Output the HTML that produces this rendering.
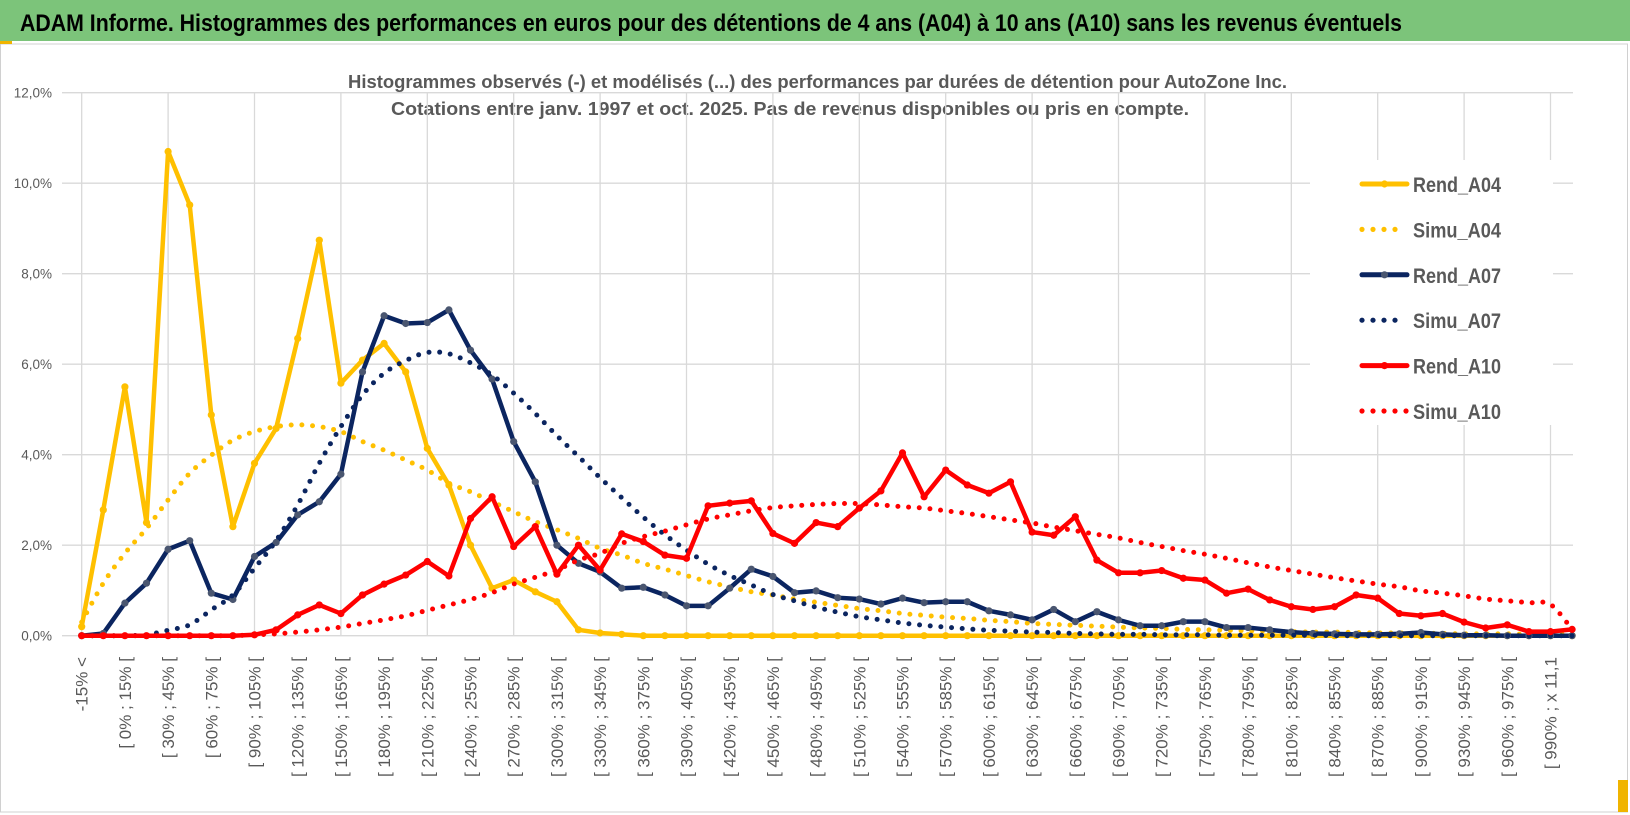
<!DOCTYPE html>
<html><head><meta charset="utf-8"><style>
html,body{margin:0;padding:0;background:#fff;}
svg{display:block;font-family:"Liberation Sans",sans-serif;}
</style></head><body>
<svg id="chart" width="1630" height="815" viewBox="0 0 1630 815">
<rect x="0" y="0" width="1630" height="815" fill="#fff"/>
<rect x="0.5" y="44" width="1627" height="768" fill="#fff" stroke="#d0d0d0"/>
<rect x="0" y="0" width="1630" height="41" fill="#7cc47a"/>
<rect x="0" y="41" width="12" height="3" fill="#f0b400"/>
<rect x="1618" y="780" width="10" height="32" fill="#f0b400"/>
<text x="20" y="31" font-size="24" font-weight="bold" fill="#000" textLength="1382" lengthAdjust="spacingAndGlyphs">ADAM Informe. Histogrammes des performances en euros pour des détentions de 4 ans (A04) à 10 ans (A10) sans les revenus éventuels</text>
<text x="348" y="88" font-size="18" font-weight="bold" fill="#595959" textLength="939" lengthAdjust="spacingAndGlyphs">Histogrammes observés (-) et modélisés (...) des performances par durées de détention pour AutoZone Inc.</text>
<text x="391" y="115" font-size="18" font-weight="bold" fill="#595959" textLength="798" lengthAdjust="spacingAndGlyphs">Cotations entre janv. 1997 et oct. 2025. Pas de revenus disponibles ou pris en compte.</text>
<g id="grid"></g>
<g id="yaxis"></g>
<g id="xaxis"></g>
<g id="series"></g>
<g id="legend"></g>
</svg>
<script>
const binStarts = [];
for (let b = 0; b <= 990; b += 15) binStarts.push(b);
const categories = ["-15% <", "[ -15% ; 0% ["].concat(binStarts.map(b => b === 990 ? "[ 990% ; x 11,1" : "[ " + b + "% ; " + (b + 15) + "% [")).concat(["> x 11,1"]);
const yTicks = [0, 2, 4, 6, 8, 10, 12];
const yTickLabels = ["0,0%", "2,0%", "4,0%", "6,0%", "8,0%", "10,0%", "12,0%"];
const rendA04 = [0.2,2.78,5.5,2.5,10.7,9.52,4.88,2.41,3.81,4.58,6.57,8.74,5.58,6.09,6.46,5.83,4.14,3.33,2.0,1.05,1.23,0.97,0.75,0.13,0.06,0.03,0,0,0,0,0,0,0,0,0,0,0,0,0,0,0,0,0,0,0,0,0,0,0,0,0,0,0,0,0,0,0,0,0,0,0,0,0,0,0,0,0,0,0,0];
const simuA04 = [0.3,1.16,1.82,2.37,3.0,3.59,3.99,4.32,4.51,4.62,4.66,4.62,4.51,4.29,4.10,3.88,3.66,3.37,3.18,2.96,2.74,2.52,2.34,2.15,1.93,1.78,1.60,1.47,1.33,1.19,1.08,0.97,0.90,0.81,0.74,0.67,0.60,0.55,0.49,0.45,0.41,0.38,0.34,0.31,0.27,0.25,0.23,0.21,0.19,0.17,0.16,0.14,0.13,0.12,0.11,0.10,0.09,0.08,0.08,0.07,0.06,0.06,0.05,0.05,0.04,0.04,0.04,0.03,0.03,0.03];
const rendA07 = [0,0.05,0.72,1.16,1.91,2.10,0.94,0.80,1.75,2.06,2.67,2.96,3.57,5.83,7.07,6.90,6.92,7.20,6.31,5.67,4.29,3.40,2.0,1.60,1.41,1.05,1.07,0.90,0.66,0.66,1.05,1.47,1.31,0.95,0.99,0.84,0.81,0.70,0.83,0.73,0.75,0.75,0.55,0.46,0.35,0.58,0.31,0.53,0.35,0.22,0.22,0.31,0.31,0.18,0.18,0.13,0.08,0.05,0.04,0.03,0.03,0.04,0.07,0.03,0.01,0.01,0,0,0,0];
const simuA07 = [0,0,0,0.02,0.12,0.24,0.57,0.90,1.49,2.10,2.89,3.81,4.62,5.32,5.80,6.08,6.26,6.23,6.03,5.76,5.36,4.91,4.42,3.96,3.49,3.05,2.62,2.23,1.89,1.58,1.33,1.12,0.91,0.77,0.63,0.52,0.42,0.35,0.28,0.23,0.19,0.15,0.12,0.10,0.08,0.07,0.05,0.04,0.03,0.03,0.02,0.02,0.02,0.01,0.01,0.01,0.01,0.01,0,0,0,0,0,0,0,0,0,0,0,0];
const rendA10 = [0,0,0,0,0,0,0,0,0.02,0.13,0.46,0.68,0.49,0.90,1.14,1.34,1.64,1.32,2.59,3.07,1.97,2.41,1.36,2.0,1.45,2.25,2.08,1.78,1.71,2.87,2.93,2.98,2.26,2.04,2.50,2.41,2.82,3.20,4.04,3.07,3.66,3.33,3.15,3.40,2.29,2.22,2.63,1.67,1.39,1.39,1.44,1.27,1.23,0.94,1.03,0.79,0.64,0.58,0.64,0.90,0.83,0.49,0.44,0.49,0.30,0.17,0.24,0.09,0.09,0.14];
const simuA10 = [0,0,0,0,0,0,0,0,0.02,0.04,0.08,0.13,0.19,0.27,0.35,0.44,0.56,0.68,0.80,0.95,1.14,1.29,1.45,1.67,1.82,2.04,2.19,2.31,2.45,2.58,2.67,2.76,2.83,2.87,2.90,2.92,2.92,2.89,2.85,2.82,2.76,2.70,2.63,2.56,2.49,2.40,2.32,2.24,2.16,2.06,1.97,1.88,1.80,1.71,1.61,1.52,1.44,1.36,1.28,1.21,1.14,1.08,0.99,0.94,0.88,0.81,0.77,0.73,0.69,0.14];

const NS = "http://www.w3.org/2000/svg";
const X0 = 81.7, DX = 21.6, Y0 = 635.7, DY = 45.25;
const PL = 62, PR = 1573, PT = 93;
function xs(i) { return X0 + i * DX; }
function ys(v) { return Y0 - v * DY; }
function mk(tag, attrs, parent) {
  const e = document.createElementNS(NS, tag);
  for (const k in attrs) e.setAttribute(k, attrs[k]);
  parent.appendChild(e);
  return e;
}
const grid = document.getElementById('grid');
yTicks.forEach((t, i) => {
  const l = mk('line', {x1: PL, x2: PR, y1: ys(t), y2: ys(t), stroke: '#d9d9d9', 'stroke-width': 1.3}, grid);
  
  
});
for (let i = 0; i < categories.length; i += 4) {
  const l = mk('line', {x1: xs(i), x2: xs(i), y1: PT, y2: Y0, stroke: '#d9d9d9', 'stroke-width': 1.3}, grid);
  
  
}
const yax = document.getElementById('yaxis');
yTicks.forEach((t, i) => {
  const tx = mk('text', {x: 52, y: ys(t) + 5, 'font-size': 13.5, fill: '#595959', 'text-anchor': 'end'}, yax);
  tx.textContent = yTickLabels[i];
  
  
});
const xax = document.getElementById('xaxis');
categories.forEach((c, i) => {
  if (i % 2 !== 0) return;
  const x = xs(i) + 6, y = 657;
  const tx = mk('text', {x: x, y: y, 'font-size': 17, fill: '#595959', 'text-anchor': 'end', transform: 'rotate(-90 ' + x + ' ' + y + ')'}, xax);
  tx.textContent = c;
  
  
});
function smoothPath(vals) {
  const p = vals.map((v, i) => [xs(i), ys(v)]);
  let d = 'M' + p[0][0] + ',' + p[0][1];
  for (let i = 0; i < p.length - 1; i++) {
    const p0 = p[i - 1] || p[i], p1 = p[i], p2 = p[i + 1], p3 = p[i + 2] || p2;
    const c1 = [p1[0] + (p2[0] - p0[0]) / 6, Math.min(Y0, p1[1] + (p2[1] - p0[1]) / 6)];
    const c2 = [p2[0] - (p3[0] - p1[0]) / 6, Math.min(Y0, p2[1] - (p3[1] - p1[1]) / 6)];
    d += ' C' + c1[0].toFixed(2) + ',' + c1[1].toFixed(2) + ' ' + c2[0].toFixed(2) + ',' + c2[1].toFixed(2) + ' ' + p2[0].toFixed(2) + ',' + p2[1].toFixed(2);
  }
  return d;
}
function linePath(vals) {
  return vals.map((v, i) => (i ? 'L' : 'M') + xs(i).toFixed(2) + ',' + ys(v).toFixed(2)).join(' ');
}
const ser = document.getElementById('series');
const defs = [
  {vals: rendA04, type: 'rend', color: '#ffc000', marker: '#ffc000', name: 'rend-a04'},
  {vals: simuA04, type: 'simu', color: '#ffc000', name: 'simu-a04'},
  {vals: rendA07, type: 'rend', color: '#0b2560', marker: '#4a5670', name: 'rend-a07'},
  {vals: simuA07, type: 'simu', color: '#0b2560', name: 'simu-a07'},
  {vals: rendA10, type: 'rend', color: '#ff0000', marker: '#ff0000', name: 'rend-a10'},
  {vals: simuA10, type: 'simu', color: '#ff0000', name: 'simu-a10'}
];
defs.forEach(s => {
  const g = mk('g', {}, ser);
  
  
  if (s.type === 'simu') {
    const p = mk('path', {d: smoothPath(s.vals), fill: 'none', stroke: s.color, 'stroke-width': 5, 'stroke-linecap': 'round', 'stroke-dasharray': '0 10.7'}, g);
    
    
  } else {
    const p = mk('path', {d: linePath(s.vals), fill: 'none', stroke: s.color, 'stroke-width': 4.5, 'stroke-linejoin': 'round'}, g);
    
    
    s.vals.forEach((v, i) => {
      const c = mk('circle', {cx: xs(i), cy: ys(v), r: 3.6, fill: s.marker}, g);
      
      
    });
  }
});
const leg = document.getElementById('legend');
const lb = mk('rect', {x: 1310, y: 160, width: 243, height: 265, fill: '#fff'}, leg);


const legendNames = ['Rend_A04', 'Simu_A04', 'Rend_A07', 'Simu_A07', 'Rend_A10', 'Simu_A10'];
defs.forEach((s, i) => {
  const cy = 184 + i * 45.4;
  const g = mk('g', {}, leg);
  
  
  if (s.type === 'rend') {
    mk('line', {x1: 1362, x2: 1407, y1: cy, y2: cy, stroke: s.color, 'stroke-width': 5, 'stroke-linecap': 'round'}, g);
    mk('circle', {cx: 1384.5, cy: cy, r: 3.6, fill: s.marker}, g);
  } else {
    const n = i === 5 ? 5 : 4;
    for (let k = 0; k < n; k++) mk('circle', {cx: 1362 + k * 11, cy: cy, r: 2.6, fill: s.color}, g);
  }
  const t = mk('text', {x: 1413, y: cy + 8, 'font-size': 21, 'font-weight': 'bold', fill: '#595959', textLength: 88, lengthAdjust: 'spacingAndGlyphs'}, g);
  t.textContent = legendNames[i];
});
</script>
</body></html>
